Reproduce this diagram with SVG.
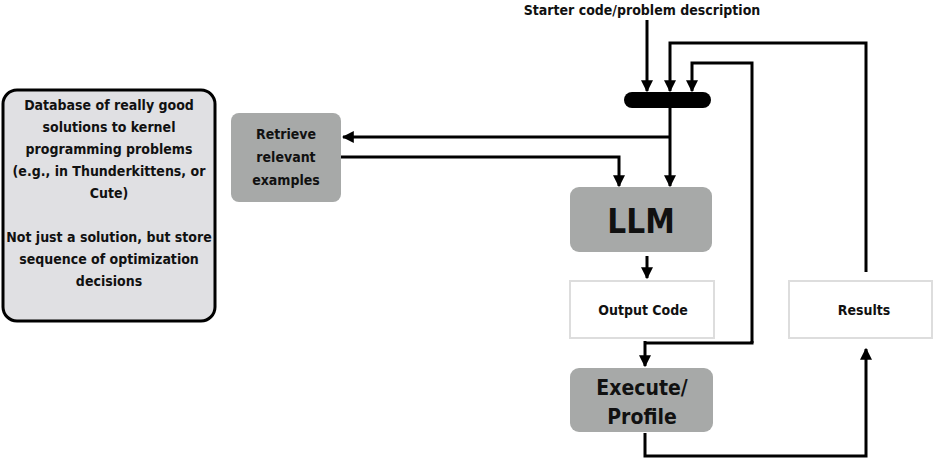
<svg xmlns="http://www.w3.org/2000/svg" width="933" height="459" viewBox="0 0 933 459">
<defs>
<marker id="ah" viewBox="0 0 10 10" refX="9" refY="5" markerWidth="4" markerHeight="4" orient="auto" markerUnits="strokeWidth"><path d="M0,0L10,5L0,10z" fill="#000"/></marker>
<style>
text{font-family:"DejaVu Sans Condensed","DejaVu Sans",sans-serif;font-stretch:condensed;font-weight:bold;fill:#111;text-anchor:middle}
.g{fill:#a7a9a8;stroke:none}
.w{fill:#fff;stroke:#ddd;stroke-width:2}
.c{fill:none;stroke:#000;stroke-width:3}
.a{marker-end:url(#ah)}
</style>
</defs>
<rect width="933" height="459" fill="#fff"/>
<text x="642" y="15" font-size="14">Starter code/problem description</text>
<g id="db"><rect x="3" y="90" width="212" height="231" rx="14" fill="#e0e0e3" stroke="#000" stroke-width="3"/>
<text font-size="14"><tspan x="109" y="110">Database of really good</tspan><tspan x="109" y="132">solutions to kernel</tspan><tspan x="109" y="154">programming problems</tspan><tspan x="109" y="176">(e.g., in Thunderkittens, or</tspan><tspan x="109" y="198">Cute)</tspan><tspan x="109" y="242">Not just a solution, but store</tspan><tspan x="109" y="264">sequence of optimization</tspan><tspan x="109" y="286">decisions</tspan></text></g>
<g id="retrieve"><rect class="g" x="231" y="113" width="110" height="89" rx="8"/>
<text font-size="14"><tspan x="286" y="139">Retrieve</tspan><tspan x="286" y="162">relevant</tspan><tspan x="286" y="185">examples</tspan></text></g>
<g id="bar"><rect x="624" y="92" width="87" height="16" rx="8" fill="#000"/></g>
<g id="llm"><rect class="g" x="570" y="187" width="142" height="65" rx="9"/><text x="641" y="233" font-size="33">LLM</text></g>
<g id="output"><rect class="w" x="570" y="281" width="144" height="57"/><text x="643" y="315" font-size="14">Output Code</text></g>
<g id="exec"><rect class="g" x="570" y="368" width="143" height="64" rx="9"/><text font-size="21"><tspan x="642" y="395">Execute/</tspan><tspan x="642" y="424">Profile</tspan></text></g>
<g id="results"><rect class="w" x="789" y="281" width="143" height="57"/><text x="864" y="315" font-size="14">Results</text></g>
<g id="connectors">
<path class="c a" d="M647,20V91"/>
<path class="c a" d="M866,272V43H670V91"/>
<path class="c a" d="M752,343V63H692V91"/>
<path class="c" d="M752,341V343H645"/>
<path class="c a" d="M645,341V366"/>
<path class="c a" d="M670,108V186"/>
<path class="c a" d="M670,137H343"/>
<path class="c a" d="M341,157H619V186"/>
<path class="c a" d="M647,256V278"/>
<path class="c a" d="M645,433V456H866V349"/>
</g>
</svg>
